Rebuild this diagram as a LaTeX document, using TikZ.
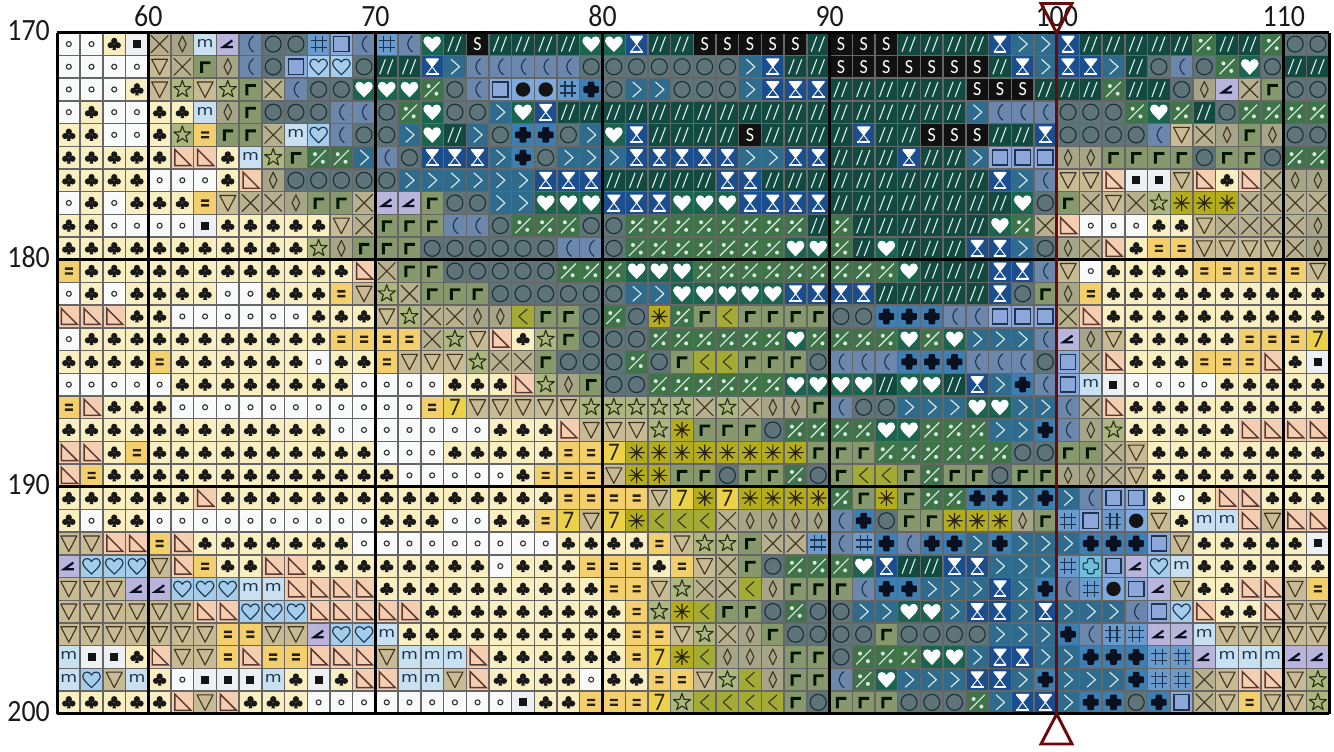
\documentclass[tikz,border=0pt]{standalone}
\usepackage{fontspec}
\setmainfont{Carlito}
\newfontfamily\labfont[FakeStretch=0.9]{Carlito}
\newfontfamily\djv[FakeStretch=1.2]{DejaVu Sans}
\newcount\cellx \newcount\celly \newcount\cellid
\def\gx{22.71}\def\gy{22.70}
\def\defsym#1#2#3{\expandafter\def\csname bg@#1\endcsname{#2}\expandafter\def\csname sy@#1\endcsname{#3}}
\def\setbgcol#1{\definecolor{cellbg}{HTML}{#1}}
\def\heartpath{(0,8) .. controls (-4,3.8) and (-8.8,0) .. (-8.8,-3.4) .. controls (-8.8,-6.4) and (-6.4,-7.6) .. (-4.6,-7.6) .. controls (-2.6,-7.6) and (-0.8,-6.4) .. (0,-4.6) .. controls (0.8,-6.4) and (2.6,-7.6) .. (4.6,-7.6) .. controls (6.4,-7.6) and (8.8,-6.4) .. (8.8,-3.4) .. controls (8.8,0) and (4,3.8) .. (0,8) -- cycle}
\defsym{o}{F9FBFB}{\draw[symline,draw=ink] (0,0) circle (2.5);}
\defsym{c}{FAEFC0}{\fill[black!90] (0,-3.2) circle (3.1) (-3.6,1.2) circle (3.1) (3.6,1.2) circle (3.1) (0,-1) -- (-1.9,6) -- (1.9,6) -- cycle;}
\defsym{b}{EEF1F3}{\fill[black!92] (-4,-4) rectangle (4,4);}
\defsym{x}{B7B08F}{\draw[symline,draw=brn] (-8.6,-8.6) -- (8.6,8.6) (-8.6,8.6) -- (8.6,-8.6);}
\defsym{d}{A7A588}{\draw[symline,draw=brn] (0,-8) -- (3.8,0) -- (0,8) -- (-3.8,0) -- cycle;}
\defsym{m}{C9E0F0}{\node[txtm] (n\the\cellid) at (0,-1) {m};}
\defsym{a}{B8B4DC}{\draw[line width=1.7pt,draw=navyd,line join=miter] (4.5,-3.6) -- (-4.6,3) -- (5,3);}
\defsym{p}{6B88AC}{\draw[symline,draw=navy] (3,-8) .. controls (-3.4,-3) and (-3.4,3) .. (3,8);}
\defsym{O}{5F7478}{\draw[symline,draw=slt] (0,0) circle (8);}
\defsym{H}{6B9BCC}{\draw[symline,draw=navy] (-3.5,-8) -- (-3.5,8) (3.5,-8) -- (3.5,8) (-8,-3.5) -- (8,-3.5) (-8,3.5) -- (8,3.5);}
\defsym{Q}{8CA8DA}{\draw[line width=1.1pt,draw=navy] (-7.6,-7.6) rectangle (7.6,7.6);}
\defsym{h}{A3CDEB}{\draw[symline,draw=navy] \heartpath;}
\defsym{v}{C8BB93}{\draw[symline,draw=brn] (-8,-7.5) -- (8,-7.5) -- (0,8) -- cycle;}
\defsym{r}{87986D}{\fill[black!92!green] (-5,6) -- (-5,-5.4) -- (5.4,-5.4) -- (5.4,-2.6) -- (-2,-2.6) -- (-2,6) -- cycle;}
\defsym{s}{AEB67F}{\draw[symline,draw=grn] (0,-9) -- (2.12,-2.91) -- (8.56,-2.78) -- (3.42,1.11) -- (5.29,7.28) -- (0,3.6) -- (-5.29,7.28) -- (-3.42,1.11) -- (-8.56,-2.78) -- (-2.12,-2.91) -- cycle;}
\defsym{W}{1A6450}{\fill[white] \heartpath;}
\defsym{e}{F4CF6E}{\fill[drk] (-4,-3.6) rectangle (4,-1.2) (-4,1.2) rectangle (4,3.6);}
\defsym{t}{F5CDB0}{\draw[line width=1.1pt,draw=rbr] (-7.4,-8) -- (-7.4,8) -- (8.6,8) -- cycle;}
\defsym{P}{3F7449}{\draw[symline,draw=lite] (-7.5,7.5) -- (7.5,-7.5); \fill[lite] (-3.6,-3.4) circle (2) (4.2,4.2) circle (2);}
\defsym{g}{2F6B8C}{\draw[symline,draw=lite] (-3.8,-7.5) -- (4.6,0) -- (-3.8,7.5);}
\defsym{/}{124A42}{\draw[symline,draw=lite] (-7,7.5) -- (-1.4,-7.5) (0.6,7.5) -- (6.2,-7.5);}
\defsym{S}{111111}{\node[txts] (n\the\cellid) at (0,0) {S};}
\defsym{I}{1B4E8E}{\fill[white] (-6.4,-8.4) -- (6.4,-8.4) -- (6.4,-7) -- (0.8,0) -- (-0.8,0) -- (-6.4,-7) -- cycle; \draw[line width=.7pt,draw=white] (0,0) -- (-5.6,7.4) -- (5.6,7.4) -- cycle; \fill[white] (-6.4,6.6) rectangle (6.4,8.6);}
\defsym{K}{7FAAE0}{\fill[black!92] (0,0) circle (7.2);}
\defsym{+}{3F7EB0}{\fill[navyd,rounded corners=.7pt] (-7.8,-3.3) -- (-3.3,-3.3) -- (-3.3,-7.8) -- (3.3,-7.8) -- (3.3,-3.3) -- (7.8,-3.3) -- (7.8,3.3) -- (3.3,3.3) -- (3.3,7.8) -- (-3.3,7.8) -- (-3.3,3.3) -- (-7.8,3.3) -- cycle;}
\defsym{l}{A4AB35}{\draw[symline,draw=brn] (4.2,-7.5) -- (-4.2,0) -- (4.2,7.5);}
\defsym{*}{B3AD1E}{\draw[symline,draw=drk] (0,-8) -- (0,8) (-8,0) -- (8,0) (-5.7,-5.7) -- (5.7,5.7) (-5.7,5.7) -- (5.7,-5.7);}
\defsym{7}{ECD24A}{\node[txt7] (n\the\cellid) at (0,0) {7};}
\defsym{C}{6FBFD8}{\draw[symline,draw=navy,rounded corners=.7pt] (-7.6,-3.2) -- (-3.2,-3.2) -- (-3.2,-7.6) -- (3.2,-7.6) -- (3.2,-3.2) -- (7.6,-3.2) -- (7.6,3.2) -- (3.2,3.2) -- (3.2,7.6) -- (-3.2,7.6) -- (-3.2,3.2) -- (-7.6,3.2) -- cycle;}
\def\cell#1{%
  \global\advance\cellid by 1
  \pgfmathsetmacro\cx{57.46+\gx*\the\cellx}%
  \pgfmathsetmacro\cy{32.7+\gy*\the\celly}%
  \begin{scope}[shift={(\cx,\cy)}]
    \edef\tmpc{\csname bg@#1\endcsname}%
    \expandafter\setbgcol\expandafter{\tmpc}%
    \fill[cellbg] (0,0) rectangle (\gx,\gy);
    \begin{scope}[shift={(11.35,11.35)}]
      \csname sy@#1\endcsname
    \end{scope}
  \end{scope}
  \global\advance\cellx by 1
}
\def\rowloop#1{\ifx#1\relax\else\cell{#1}\expandafter\rowloop\fi}
\def\gridrow#1{\global\cellx=0 \rowloop #1\relax \global\advance\celly by 1 }
\definecolor{ink}{HTML}{333333}
\definecolor{brn}{HTML}{3F3524}
\definecolor{navy}{HTML}{1D3550}
\definecolor{navyd}{HTML}{0A1020}
\definecolor{slt}{HTML}{1A3036}
\definecolor{grn}{HTML}{28301A}
\definecolor{drk}{HTML}{2A2210}
\definecolor{rbr}{HTML}{5A3A30}
\definecolor{lite}{HTML}{DCEBE6}
\definecolor{gridc}{HTML}{666666}
\definecolor{redl}{HTML}{6B0A0A}
\tikzset{
  symline/.style={line width=.85pt,line join=round},
  txtm/.style={inner sep=0pt,font=\djv\fontsize{10.8}{13}\selectfont,text=navy},
  txts/.style={inner sep=0pt,font=\labfont\fontsize{15}{17}\selectfont,text=white},
  txt7/.style={inner sep=0pt,font=\labfont\fontsize{19}{21}\selectfont,text=drk},
  ticklab/.style={inner sep=0pt,font=\labfont\fontsize{23.2}{26}\selectfont,text=black!90},
  thinrule/.style={draw=gridc,line width=1.05pt},
  thickrule/.style={draw=black,line width=2.3pt},
  marker/.style={draw=redl,line width=2.2pt,line join=miter}
}
\begin{document}
\begin{tikzpicture}[x=.75pt,y=-.75pt]
\useasboundingbox (0,0) rectangle (1334,751);
\gridrow{oocbxdmapOOHQp HpW/S////WWI// SSSSS/SSS////I ggI/////P//POO}
\gridrow{oooovxrdpOQhhO //IgpppppOOOOO OOgI//SSSSSSS/ IgIIg/OpOPWO//}
\gridrow{ooocvsvsrxpOOW WWPOpQKKH+OggO OOgIII//////SS S///P//OdaxrOO}
\gridrow{ocooccmdrOOOpp OPWOOgWI////// ////////////gp ppOOOPWP/OPPPP}
\gridrow{ccoocserrxmhpO OgW/gO++OgWI// //S////I//SSS/ /IOOOOpvxdrdOO}
\gridrow{cccccttcmsrPPg pOIIIg+OgggIII IIggII///I//gQ QQddrrrrOrrOPP}
\gridrow{ccccoooctdOOOO OggggggIII//// /II//////////I gpvvtbbvtctxdd}
\gridrow{ococccevxxdrrx aarOOggWWWIIIW WWIIII//////// WOrxvxs***xxxx}
\gridrow{ccoooobcccccvx rrrppOPPPOOPPP PPPPP/P//////W Pxtoooccvxxxxd}
\gridrow{cccccccccccsdr rrOOOOOOppOPPP PPPPWWP/W///II gOdxtceevvvvxd}
\gridrow{ecccccccccccct xrrOOOOOPPPWWW PPPPPPPPPW///I Ipvocccceeeeev}
\gridrow{ococcccoocccev sxrrrOOOOOOggW WWWWIIII/////I Ordecccccccccc}
\gridrow{tttccooooooccc vsxxddlrrOPO*P rlrrrrOO+++ppQ QQxtcccccccccc}
\gridrow{occcccccccccee eexsvtcsrOOOPP PPPPWPPPPWPWgg gpadvccccceee7}
\gridrow{cccceccccccocc evvvsxxrOOOPOr llrrrOppp+++pp pOQxtccceeetcb}
\gridrow{ooooocccccccco oooccctsdrOOPP PPPPWWWW/WW/Ig +pQmbooooccccc}
\gridrow{etcccooooooooo ooe7vvvvvsssss xsxddrpOOgggWW ggpxtccccccccc}
\gridrow{ccccccccccccoo oooooccctvvvs* rrrOPPPPWWPPPg g+pdsccccctttt}
\gridrow{ttcecccccccccc ooocccccee7*** *****rrrPPPPPP OOrrxvcccccccc}
\gridrow{tecccccccccccc coooooceeev**r rOrrPOrllrPrrO rrddxvcccccccc}
\gridrow{cccccctccccccc cccccccceeeev7 *7****Pr*rPP++ g+gpQQcocttccc}
\gridrow{coccoooooooooo cccoocce7v7*ll lxddddp+Orr*** drHQHKvcmmtvtt}
\gridrow{vvttetccccccco ooooooooccccev ssrxxHpH+p++g+ ggg+++Qvcccccb}
\gridrow{ahhhvteccttccc cccccoccceeece vxrOPPPWI//IIg ggHCQahmcccccc}
\gridrow{vvvaahhhmmtttt cccccccccceevs xxldrrrp++gggI g+pHKQavccttve}
\gridrow{vvvvvvtthhhttt ttccccccccces* lrrOPOOggWWgII gIgggpQhtcctvv}
\gridrow{vvvvvvveevvahh mcccccccccceev sxdrOOOOrOOOOg gg+pHHaamvvvvv}
\gridrow{mbbct vvet eettt vmmmtcccccce7* ldddrrOPPPWWgI Igg+++HHammmaa}
\gridrow{mhvmcobbbmcbct tmmvtccccoccee vsldrrpPWgggII g+ggg+HHxvttvs}
\gridrow{ccccctvtcccooo oooooobcceee7s llllrOrrrOOOPg IIg++O+Qxvevvs}
% thin rules
\foreach \i in {0,...,56}{
  \pgfmathsetmacro\lx{57.46+\gx*\i}
  \draw[thinrule] (\lx,32.7) -- (\lx,713.7);
}
\foreach \j in {0,...,30}{
  \pgfmathsetmacro\ly{32.7+\gy*\j}
  \draw[thinrule] (57.46,\ly) -- (1329.2,\ly);
}
% thick rules
\foreach \i in {0,4,14,24,34,44,54,56}{
  \pgfmathsetmacro\lx{57.46+\gx*\i}
  \draw[thickrule] (\lx,32.7) -- (\lx,713.7);
}
\foreach \j in {0,10,20,30}{
  \pgfmathsetmacro\ly{32.7+\gy*\j}
  \draw[thickrule] (57.46,\ly) -- (1329.2,\ly);
}
% axis labels
\foreach \v/\i in {60/4,70/14,80/24,90/34,100/44,110/54}{
  \pgfmathsetmacro\lx{57.46+\gx*\i}
  \node[ticklab,anchor=base] (top\v) at (\lx,26) {\v};
}
\foreach \v/\j in {170/0,180/10,190/20,200/30}{
  \pgfmathsetmacro\ly{32.7+\gy*\j+7.8}
  \node[ticklab,anchor=base east] (left\v) at (50,\ly) {\v};
}
% red marker
\coordinate (mtop) at (1056.7,33);
\coordinate (mbot) at (1056.7,714);
\draw[marker] (mtop) -- (mbot);
\draw[marker] (1041,3.5) -- (1072,3.5) -- (mtop) -- cycle;
\draw[marker] (1041,744) -- (1072,744) -- (mbot) -- cycle;
\end{tikzpicture}
\end{document}
